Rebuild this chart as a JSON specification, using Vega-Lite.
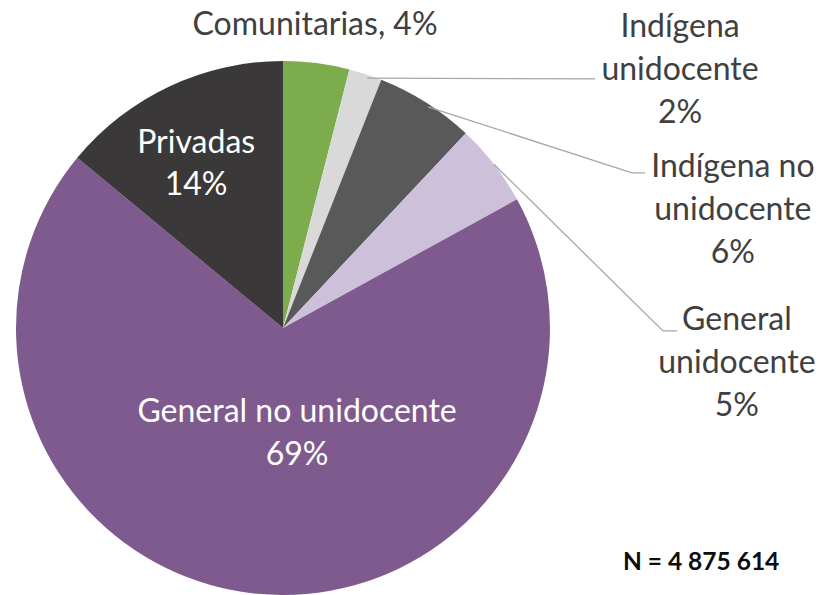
{
  "$schema": "https://vega.github.io/schema/vega-lite/v6.json",
  "width": 534,
  "height": 534,
  "padding": {"left": 16, "top": 61, "right": 269, "bottom": 0},
  "autosize": {"type": "none"},
  "background": "white",
  "config": {"view": {"stroke": null}, "font": "Lato"},
  "datasets": {
    "slices": [
      {"category": "Comunitarias", "pct": 4, "order": 1, "inner": ""},
      {"category": "Indígena unidocente", "pct": 2, "order": 2, "inner": ""},
      {"category": "Indígena no unidocente", "pct": 6, "order": 3, "inner": ""},
      {"category": "General unidocente", "pct": 5, "order": 4, "inner": ""},
      {"category": "General no unidocente", "pct": 69, "order": 5, "inner": "General no unidocente\n69%"},
      {"category": "Privadas", "pct": 14, "order": 6, "inner": "Privadas\n14%"}
    ],
    "labels": [
      {"label": "Comunitarias, 4%", "x": 0.12, "y": 1.135},
      {"label": "Indígena\nunidocente\n2%", "x": 1.487, "y": 1.127},
      {"label": "Indígena no\nunidocente\n6%", "x": 1.685, "y": 0.603},
      {"label": "General\nunidocente\n5%", "x": 1.7, "y": 0.03}
    ],
    "note": [
      {"label": "N = 4 875 614", "x": 1.566, "y": -0.88}
    ],
    "leaders": [
      {"group": "Indígena unidocente", "seq": 1, "x": 0.315, "y": 0.936},
      {"group": "Indígena unidocente", "seq": 2, "x": 1.169, "y": 0.933},
      {"group": "Indígena no unidocente", "seq": 1, "x": 0.543, "y": 0.828},
      {"group": "Indígena no unidocente", "seq": 2, "x": 1.307, "y": 0.581},
      {"group": "Indígena no unidocente", "seq": 3, "x": 1.356, "y": 0.581},
      {"group": "General unidocente", "seq": 1, "x": 0.79, "y": 0.613},
      {"group": "General unidocente", "seq": 2, "x": 1.423, "y": -0.011},
      {"group": "General unidocente", "seq": 3, "x": 1.476, "y": -0.011}
    ]
  },
  "layer": [
    {
      "data": {"name": "slices"},
      "mark": {"type": "arc"},
      "encoding": {
        "theta": {"field": "pct", "type": "quantitative", "stack": true},
        "order": {"field": "order", "type": "quantitative"},
        "color": {
          "field": "category", "type": "nominal", "legend": null,
          "scale": {
            "domain": ["Comunitarias", "Indígena unidocente", "Indígena no unidocente", "General unidocente", "General no unidocente", "Privadas"],
            "range": ["#7cac4c", "#d9d9d9", "#595959", "#ccc0da", "#7f5a8e", "#3a3838"]
          }
        }
      }
    },
    {
      "data": {"name": "slices"},
      "mark": {"type": "text", "radius": 204, "fontSize": 32, "fill": "white", "lineBreak": "\n", "lineHeight": 42, "align": "center", "baseline": "middle"},
      "encoding": {
        "theta": {"field": "pct", "type": "quantitative", "stack": true},
        "order": {"field": "order", "type": "quantitative"},
        "text": {"condition": {"test": "datum.category === 'Privadas'", "field": "inner"}, "value": ""}
      }
    },
    {
      "data": {"name": "slices"},
      "mark": {"type": "text", "radius": 84, "dx": 22, "fontSize": 32, "fill": "white", "lineBreak": "\n", "lineHeight": 43, "align": "center", "baseline": "middle"},
      "encoding": {
        "theta": {"field": "pct", "type": "quantitative", "stack": true},
        "order": {"field": "order", "type": "quantitative"},
        "text": {"condition": {"test": "datum.category === 'General no unidocente'", "field": "inner"}, "value": ""}
      }
    },
    {
      "data": {"name": "leaders"},
      "mark": {"type": "line", "color": "#a6a6a6", "strokeWidth": 1.3},
      "encoding": {
        "x": {"field": "x", "type": "quantitative", "scale": {"domain": [-1, 1], "nice": false, "zero": false}, "axis": null},
        "y": {"field": "y", "type": "quantitative", "scale": {"domain": [-1, 1], "nice": false, "zero": false}, "axis": null},
        "detail": {"field": "group", "type": "nominal"},
        "order": {"field": "seq", "type": "quantitative"}
      }
    },
    {
      "data": {"name": "labels"},
      "mark": {"type": "text", "fontSize": 32, "fill": "#404040", "lineBreak": "\n", "lineHeight": 43, "align": "center", "baseline": "middle"},
      "encoding": {
        "x": {"field": "x", "type": "quantitative", "scale": {"domain": [-1, 1], "nice": false, "zero": false}, "axis": null},
        "y": {"field": "y", "type": "quantitative", "scale": {"domain": [-1, 1], "nice": false, "zero": false}, "axis": null},
        "text": {"field": "label"}
      }
    },
    {
      "data": {"name": "note"},
      "mark": {"type": "text", "fontSize": 24.5, "fontWeight": "bold", "fill": "#0d0d0d", "align": "center", "baseline": "middle"},
      "encoding": {
        "x": {"field": "x", "type": "quantitative", "scale": {"domain": [-1, 1], "nice": false, "zero": false}, "axis": null},
        "y": {"field": "y", "type": "quantitative", "scale": {"domain": [-1, 1], "nice": false, "zero": false}, "axis": null},
        "text": {"field": "label"}
      }
    }
  ]
}
